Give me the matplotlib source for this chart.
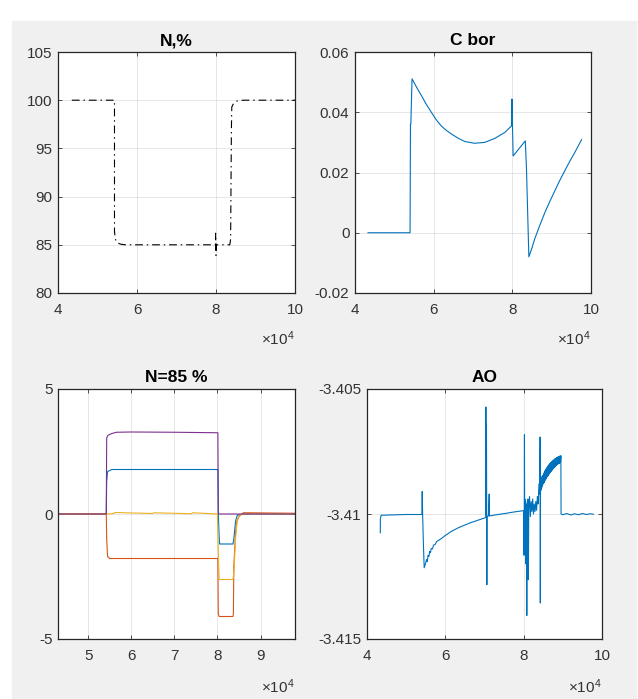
import matplotlib
matplotlib.use("Agg")
import matplotlib.pyplot as plt

plt.rcParams['font.family'] = ['Liberation Sans', 'DejaVu Sans']
plt.rcParams['mathtext.fontset'] = 'custom'
plt.rcParams['mathtext.rm'] = 'Liberation Sans'

# --- data (time in units of 1e4) ---
n_t = [4.35, 5.43, 5.43, 5.45, 5.50, 5.60, 5.70, 7.99, 7.99, 8.00, 8.01, 8.35,
       8.37, 8.39, 8.40, 8.45, 8.55, 8.70, 10.0]
n_y = [100, 100, 86.4, 85.6, 85.2, 85.05, 85.0, 85.0, 86.2, 83.9, 85.0, 85.0,
       85.6, 97.0, 99.3, 99.7, 99.95, 100, 100]

cb_t = [4.33, 5.40, 5.41, 5.42, 5.45, 5.57, 5.69, 5.81, 5.94, 6.06, 6.19, 6.32,
        6.45, 6.62, 6.79, 7.04, 7.30, 7.55, 7.81, 7.98, 7.99, 8.02, 8.33, 8.36,
        8.42, 8.50, 8.57, 8.70, 8.82, 8.95, 9.08, 9.20, 9.33, 9.46, 9.59, 9.76]
cb_y = [0, 0, 0.036, 0.036, 0.0511, 0.0482, 0.0455, 0.0427, 0.0400, 0.0376,
        0.0355, 0.0340, 0.0328, 0.0314, 0.0303, 0.0297, 0.0300, 0.0313, 0.0333,
        0.0355, 0.0444, 0.0255, 0.0305, 0.0211, -0.0080, -0.0050, -0.0020,
        0.0025, 0.0065, 0.0103, 0.0139, 0.0172, 0.0205, 0.0237, 0.0267, 0.0309]

s1_t = [4.30, 5.42, 5.43, 5.45, 5.55, 8.01, 8.02, 8.04, 8.05, 8.36, 8.38, 8.42,
        8.46, 8.60, 9.80]
s1_y = [0, 0, 1.3, 1.7, 1.78, 1.78, 0, -0.9, -1.2, -1.2, -1.0, -0.3, -0.05, 0, 0]

s2_t = [4.30, 5.42, 5.43, 5.45, 5.50, 8.01, 8.02, 8.04, 8.36, 8.37, 8.38, 8.42,
        8.45, 8.50, 8.60, 9.80]
s2_y = [0, 0, -1.0, -1.7, -1.78, -1.78, -4.0, -4.1, -4.1, -4.0, -2.1, -0.8,
        -0.3, -0.1, 0.05, 0.03]

s3_t = [4.30, 5.43, 5.60, 5.62, 6.50, 6.52, 7.40, 7.42, 8.00, 8.02, 8.04, 8.36,
        8.38, 8.42, 8.46, 8.55, 9.80]
s3_y = [0, 0, 0.02, 0.06, 0.02, 0.05, 0.01, 0.05, 0, -1.5, -2.62, -2.62, -2.4,
        -1.0, -0.2, 0, 0]

s4_t = [4.30, 5.42, 5.43, 5.46, 5.55, 5.66, 6.00, 7.00, 8.01, 8.02, 9.80]
s4_y = [0, 0, 3.05, 3.15, 3.22, 3.27, 3.28, 3.27, 3.25, 0, 0]

ao_t = [4.34, 4.341, 4.36, 5.00, 5.40, 5.41, 5.415, 5.42, 5.44, 5.46, 5.48, 5.50,
        5.52, 5.54, 5.56, 5.58, 5.60, 5.62, 5.64, 5.67, 5.70, 5.74, 5.78, 5.82,
        5.90, 5.98, 6.15, 6.32, 6.50, 6.66, 6.85, 7.00, 7.03, 7.035, 7.045, 7.05,
        7.06, 7.065, 7.10, 7.12, 7.125, 7.30, 7.52, 7.75, 7.98, 8.00, 8.01, 8.015,
        8.02, 8.025, 8.03, 8.04, 8.05, 8.06, 8.07, 8.08, 8.09, 8.10, 8.11, 8.12,
        8.13, 8.15, 8.17, 8.19, 8.21, 8.23, 8.25, 8.27, 8.29, 8.31, 8.33, 8.35,
        8.37, 8.39, 8.41, 8.42, 8.425, 8.43, 8.44, 8.45, 8.46, 8.47, 8.48, 8.49,
        8.50, 8.51, 8.52, 8.53, 8.54, 8.55, 8.56, 8.57, 8.58, 8.59, 8.60, 8.61,
        8.62, 8.63, 8.64, 8.65, 8.66, 8.67, 8.68, 8.69, 8.70, 8.71, 8.72, 8.73,
        8.74, 8.75, 8.76, 8.77, 8.78, 8.79, 8.80, 8.81, 8.82, 8.83, 8.84, 8.85,
        8.86, 8.87, 8.88, 8.89, 8.90, 8.91, 8.92, 8.93, 8.94, 8.95, 8.955, 9.00,
        9.10, 9.20, 9.30, 9.40, 9.50, 9.60, 9.70, 9.78]
ao_y = [-3.41075, -3.41020, -3.41005, -3.41002, -3.41002, -3.40910, -3.40960,
        -3.41000, -3.41120, -3.41215, -3.41205, -3.41195, -3.41182, -3.41190,
        -3.41165, -3.41170, -3.41150, -3.41155, -3.41138, -3.41140, -3.41124,
        -3.41122, -3.41110, -3.41106, -3.41098, -3.41088, -3.41070, -3.41056,
        -3.41044, -3.41034, -3.41024, -3.41016, -3.41014, -3.40572, -3.41000,
        -3.40640, -3.41283, -3.41010, -3.41008, -3.40920, -3.41008, -3.41003,
        -3.40998, -3.40992, -3.40987, -3.40988, -3.41165, -3.40990, -3.40683,
        -3.41000, -3.40940, -3.41060, -3.40950, -3.41200, -3.40960, -3.41406,
        -3.40970, -3.41050, -3.40940, -3.41263, -3.40980, -3.40930, -3.41010,
        -3.40950, -3.40990, -3.40940, -3.41000, -3.40960, -3.40990, -3.40950,
        -3.40985, -3.40930, -3.40960, -3.40880, -3.40920, -3.40692, -3.41356,
        -3.40880, -3.40905, -3.40860, -3.40895, -3.40850, -3.40888, -3.40845,
        -3.40880, -3.40838, -3.40875, -3.40832, -3.40868, -3.40826, -3.40862,
        -3.40820, -3.40858, -3.40815, -3.40852, -3.40810, -3.40848, -3.40806,
        -3.40842, -3.40802, -3.40838, -3.40798, -3.40834, -3.40795, -3.40830,
        -3.40792, -3.40826, -3.40789, -3.40822, -3.40786, -3.40818, -3.40783,
        -3.40815, -3.40780, -3.40812, -3.40778, -3.40808, -3.40776, -3.40805,
        -3.40774, -3.40802, -3.40772, -3.40800, -3.40770, -3.40798, -3.40769,
        -3.40796, -3.40768, -3.40794, -3.40767, -3.41000, -3.41003,
        -3.40998, -3.41004, -3.40999, -3.41003, -3.40998, -3.41002,
        -3.40999, -3.41001]

blue = '#0072BD'
orange = '#D95319'
yellow = '#EDB120'
purple = '#7E2F8E'
txt = '#333333'

fig = plt.figure(figsize=(6.38, 6.99), dpi=100)
fig.patches.append(plt.Rectangle((12 / 638, 0), 624 / 638, 678 / 699,
                                 transform=fig.transFigure, color='#f0f0f0', zorder=-10))


def style(ax, title, xlim, xticks, ylim, yticks, ylabels=None):
    ax.set_xlim(xlim)
    ax.set_ylim(ylim)
    ax.set_xticks(xticks)
    ax.set_xticklabels([('%g' % v) for v in xticks])
    ax.set_yticks(yticks)
    ax.set_yticklabels(ylabels if ylabels else [('%g' % v) for v in yticks])
    ax.grid(True, color='#262626', alpha=0.13, lw=0.6)
    ax.set_axisbelow(True)
    ax.tick_params(direction='in', length=3, width=0.6, top=True, right=True,
                   labelsize=11, colors=txt, pad=4)
    ax.tick_params(axis='x', pad=7)
    for s in ax.spines.values():
        s.set_color('#262626')
        s.set_linewidth(0.9)
    ax.set_title(title, fontsize=12.5, fontweight='bold', color='black', pad=5)
    ax.text(1.0, -0.19, r'$\mathregular{\times10^{4}}$', transform=ax.transAxes,
            ha='right', va='center', fontsize=11, color=txt)


ax1 = fig.add_axes([58 / 638, 406 / 699, 237 / 638, 241 / 699])
ax1.plot(n_t, n_y, color='black', lw=0.8, dashes=(7, 3.5, 1.3, 3.5))
style(ax1, 'N,%', (4, 10), [4, 6, 8, 10], (80, 105), [80, 85, 90, 95, 100, 105])

ax2 = fig.add_axes([355 / 638, 406 / 699, 236 / 638, 241 / 699])
ax2.plot(cb_t, cb_y, color=blue, lw=0.8)
style(ax2, 'C bor', (4, 10), [4, 6, 8, 10], (-0.02, 0.06),
      [-0.02, 0, 0.02, 0.04, 0.06])

ax3 = fig.add_axes([58 / 638, 60 / 699, 237 / 638, 250 / 699])
ax3.plot(s1_t, s1_y, color=blue, lw=0.8)
ax3.plot(s2_t, s2_y, color=orange, lw=0.8)
ax3.plot(s3_t, s3_y, color=yellow, lw=0.8)
ax3.plot(s4_t, s4_y, color=purple, lw=0.8)
style(ax3, 'N=85 %', (4.3, 9.8), [5, 6, 7, 8, 9], (-5, 5), [-5, 0, 5])

ax4 = fig.add_axes([367 / 638, 60 / 699, 235 / 638, 250 / 699])
ax4.plot(ao_t, ao_y, color=blue, lw=0.8)
style(ax4, 'AO', (4, 10), [4, 6, 8, 10], (-3.415, -3.405),
      [-3.415, -3.41, -3.405], ['-3.415', '-3.41', '-3.405'])

fig.savefig('out.png', dpi=100, facecolor='white')
